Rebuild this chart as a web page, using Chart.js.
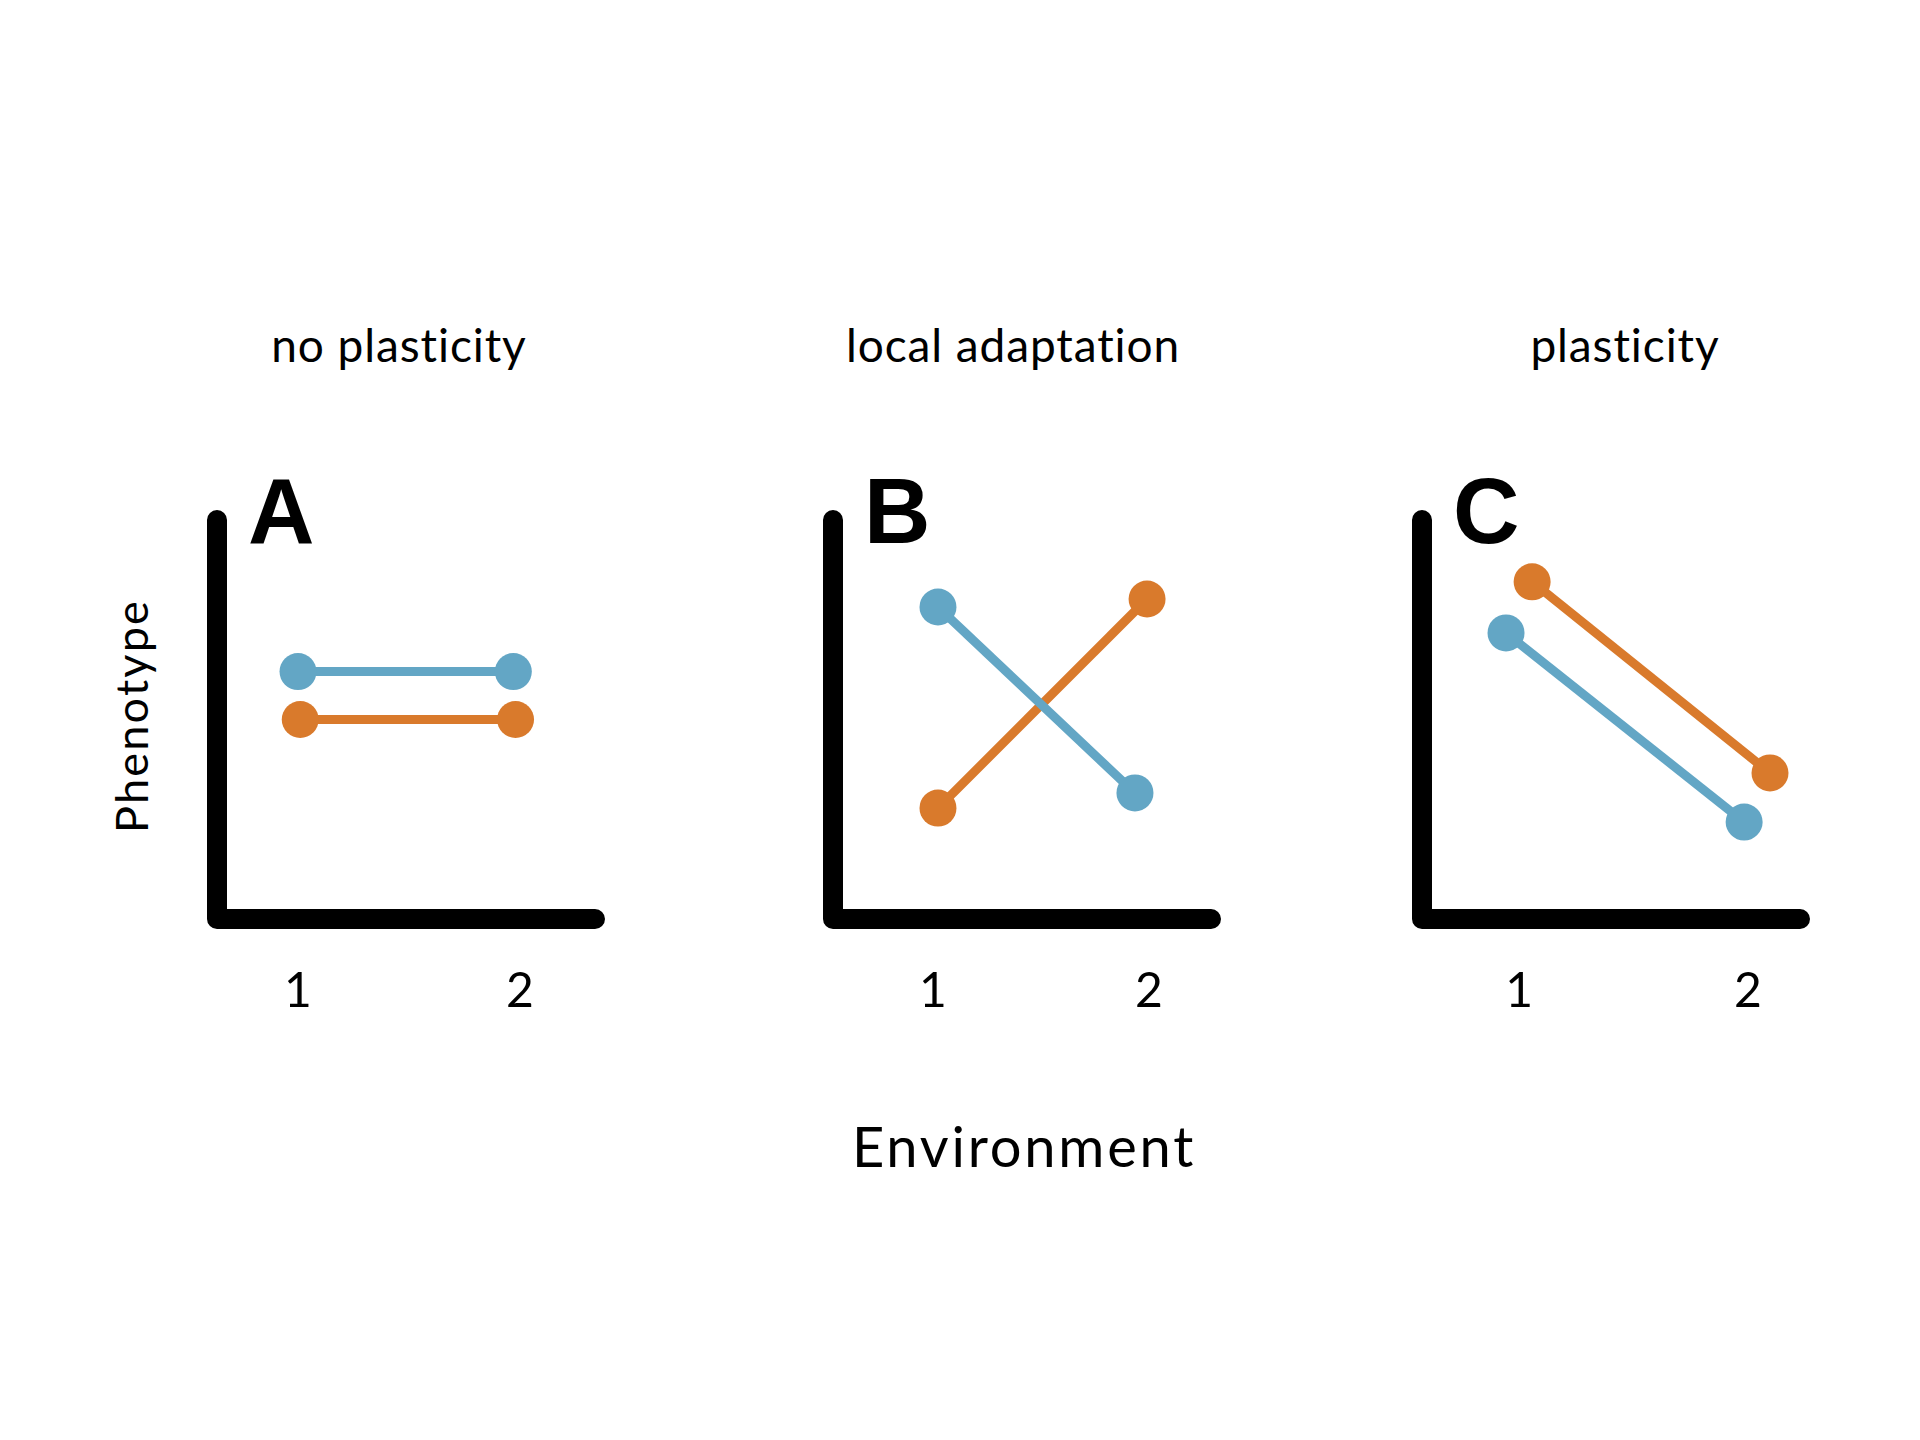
<!DOCTYPE html>
<html>
<head>
<meta charset="utf-8">
<title>Reaction norms</title>
<script src="https://cdn.jsdelivr.net/npm/chart.js@4.4.1/dist/chart.umd.min.js"></script>
<style>
  html, body { margin: 0; padding: 0; background: #fff; }
  body { width: 1920px; height: 1440px; position: relative; overflow: hidden; font-family: Lato, "Noto Sans", sans-serif; color: #000; }
  canvas.panel { position: absolute; }
  .txt { position: absolute; white-space: nowrap; line-height: 1; }
  .title { font-size: 46px; letter-spacing: 0.9px; transform: translateX(-50%); }
  #xTitle { font-size: 56px; letter-spacing: 2.8px; left: 1024px; top: 1118px; transform: translateX(-50%); }
  #yTitle { font-size: 45px; letter-spacing: 2.2px; left: 131px; top: 716px; transform: translate(-50%, -50%) rotate(-90deg); }
</style>
</head>
<body>
<div class="txt title" id="title0" style="left:399px; top:322px;"></div>
<div class="txt title" id="title1" style="left:1013px; top:322px;"></div>
<div class="txt title" id="title2" style="left:1625px; top:322px;"></div>
<div class="txt" id="xTitle">Environment</div>
<div class="txt" id="yTitle">Phenotype</div>

<canvas class="panel" id="panel0"></canvas>
<canvas class="panel" id="panel1"></canvas>
<canvas class="panel" id="panel2"></canvas>

<script>
  // environments on the x axis and their tick labels
  const environments = [1, 2];
  const tickLabels = ['1', '2'];
  const panelTitles = ['no plasticity', 'local adaptation', 'plasticity'];
  const panelTags = ['A', 'B', 'C'];

  // A: no plasticity
  const blueX_A = [1.0, 1.97];
  const blueY_A = [6.2, 6.2];
  const orangeX_A = [1.01, 1.98];
  const orangeY_A = [5.0, 5.0];
  const xRange_A = [0.635, 2.338];

  // B: local adaptation
  const blueX_B = [1.023, 1.935];
  const blueY_B = [7.82, 3.16];
  const orangeX_B = [1.023, 1.991];
  const orangeY_B = [2.78, 8.02];
  const xRange_B = [0.537, 2.287];

  // C: plasticity
  const blueX_C = [0.943, 1.983];
  const blueY_C = [7.17, 2.43];
  const orangeX_C = [1.057, 2.096];
  const orangeY_C = [8.45, 3.66];
  const xRange_C = [0.576, 2.227];

  const yRange = [0, 10];

  const BLUE = '#63a6c5';
  const ORANGE = '#d97a2c';

  const panels = [
    { left: 217, blue: [blueX_A, blueY_A], orange: [orangeX_A, orangeY_A], xr: xRange_A },
    { left: 833, blue: [blueX_B, blueY_B], orange: [orangeX_B, orangeY_B], xr: xRange_B },
    { left: 1422, blue: [blueX_C, blueY_C], orange: [orangeX_C, orangeY_C], xr: xRange_C }
  ];

  const AREA_TOP = 520;
  const AREA_BOTTOM = 919;
  const AREA_WIDTH = 378;
  const PAD_SIDE = 80;
  const PAD_TOP = 100;
  const AXIS_H = 120;

  const toPoints = ([xs, ys]) => xs.map((x, i) => ({ x, y: ys[i] }));

  // thick L-shaped axis with round ends, plus the panel tag
  const axisFrame = {
    id: 'axisFrame',
    beforeDatasetsDraw(chart, args, opts) {
      const { ctx, chartArea: a } = chart;
      ctx.save();
      ctx.strokeStyle = '#000';
      ctx.lineWidth = 20;
      ctx.lineCap = 'round';
      ctx.lineJoin = 'round';
      ctx.beginPath();
      ctx.moveTo(a.left, a.top);
      ctx.lineTo(a.left, a.bottom);
      ctx.lineTo(a.right, a.bottom);
      ctx.stroke();
      ctx.fillStyle = '#000';
      ctx.font = 'bold 92px "Liberation Sans", Arial, sans-serif';
      ctx.textBaseline = 'alphabetic';
      ctx.textAlign = 'left';
      ctx.fillText(opts.tag || '', a.left + 31, a.top + 23);
      ctx.restore();
    }
  };

  const series = (label, pts, color) => ({
    label,
    data: toPoints(pts),
    showLine: true,
    borderColor: color,
    borderWidth: 9,
    pointRadius: 18.5,
    pointHoverRadius: 18.5,
    pointBackgroundColor: color,
    pointBorderWidth: 0,
    clip: false
  });

  panels.forEach((p, i) => {
    document.getElementById('title' + i).textContent = panelTitles[i];

    const canvas = document.getElementById('panel' + i);
    const w = AREA_WIDTH + PAD_SIDE * 2;
    const h = AREA_BOTTOM - (AREA_TOP - PAD_TOP) + AXIS_H;
    canvas.width = w;
    canvas.height = h;
    canvas.style.left = (p.left - PAD_SIDE) + 'px';
    canvas.style.top = (AREA_TOP - PAD_TOP) + 'px';
    canvas.style.width = w + 'px';
    canvas.style.height = h + 'px';

    new Chart(canvas, {
      type: 'scatter',
      data: {
        datasets: [
          series('population 1', p.blue, BLUE),
          series('population 2', p.orange, ORANGE)
        ]
      },
      options: {
        responsive: false,
        animation: false,
        devicePixelRatio: 1,
        layout: { padding: { left: PAD_SIDE, right: PAD_SIDE, top: PAD_TOP, bottom: 0 } },
        scales: {
          x: {
            type: 'linear',
            min: p.xr[0],
            max: p.xr[1],
            grid: { display: false, drawTicks: false },
            border: { display: false },
            afterBuildTicks: (scale) => { scale.ticks = environments.map((v) => ({ value: v })); },
            afterFit: (scale) => { scale.height = AXIS_H; },
            ticks: {
              autoSkip: false,
              maxRotation: 0,
              padding: 44,
              color: '#000',
              font: { family: 'Lato', size: 48 },
              callback: (v) => tickLabels[environments.indexOf(v)]
            }
          },
          y: {
            type: 'linear',
            display: false,
            min: yRange[0],
            max: yRange[1]
          }
        },
        plugins: {
          legend: { display: false },
          tooltip: { enabled: false },
          axisFrame: { tag: panelTags[i] }
        }
      },
      plugins: [axisFrame]
    });
  });
</script>
</body>
</html>
